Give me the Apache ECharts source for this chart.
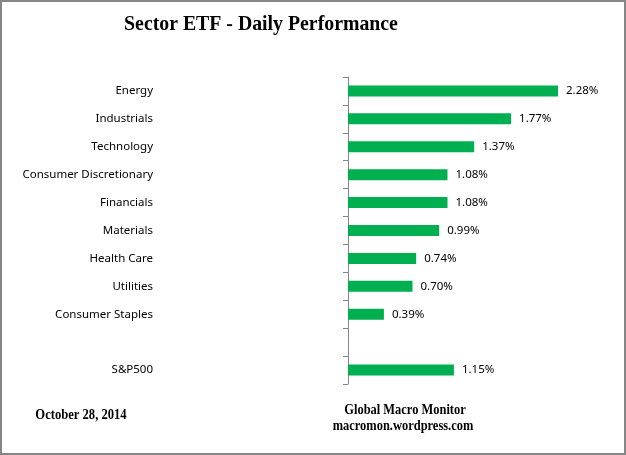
<!DOCTYPE html>
<html><head><meta charset="utf-8">
<script src="https://cdn.jsdelivr.net/npm/echarts@6/dist/echarts.min.js"></script>
<style>html,body{margin:0;padding:0;background:#fff}#c{width:626px;height:455px}</style>
</head><body><div id="c"></div>
<script>
const categories = ["Energy","Industrials","Technology","Consumer Discretionary","Financials","Materials","Health Care","Utilities","Consumer Staples","","S&P500"];
const values = [2.28,1.77,1.37,1.08,1.08,0.99,0.74,0.70,0.39,null,1.15];
const titleText = "Sector ETF - Daily Performance";
const dateText = "October 28, 2014";
const sourceLines = ["Global Macro Monitor","macromon.wordpress.com"];

const chart = echarts.init(document.getElementById('c'), null, {renderer:'canvas'});
chart.setOption({
  animation:false,
  backgroundColor:'#fff',
  grid:{left:348, top:77, bottom:71, width:230.3, containLabel:false},
  xAxis:{type:'value', min:0, max:2.5, show:false},
  yAxis:{type:'category', data:categories, inverse:true,
    axisLine:{show:true, lineStyle:{color:'#868686', width:1}},
    axisTick:{show:true, length:5, lineStyle:{color:'#868686'}},
    axisLabel:{margin:195, color:'#000', fontFamily:'Noto Sans', fontSize:11.5}
  },
  series:[{type:'bar', data:values, barWidth:11, itemStyle:{color:'#00B050'},
    label:{show:true, position:'right', distance:8, color:'#000', fontFamily:'Noto Sans', fontSize:11.5,
      formatter:p=>p.value==null?'':p.value.toFixed(2)+'%'}}],
  graphic:[
    {type:'rect', shape:{x:1,y:1,width:624,height:453}, style:{fill:'none', stroke:'#868686', lineWidth:2}, silent:true},
    {type:'text', x:261, y:24, scaleX:0.9, style:{text:titleText, font:'bold 22px "Liberation Serif"', fill:'#000', textAlign:'center', textVerticalAlign:'middle'}},
    {type:'text', x:81, y:415, scaleX:0.84, style:{text:dateText, font:'bold 15px "Liberation Serif"', fill:'#000', textAlign:'center', textVerticalAlign:'middle'}},
    {type:'text', x:405, y:410, scaleX:0.83, style:{text:sourceLines[0], font:'bold 15px "Liberation Serif"', fill:'#000', textAlign:'center', textVerticalAlign:'middle'}},
    {type:'text', x:403, y:426, scaleX:0.83, style:{text:sourceLines[1], font:'bold 15px "Liberation Serif"', fill:'#000', textAlign:'center', textVerticalAlign:'middle'}}
  ]
});
</script></body></html>
